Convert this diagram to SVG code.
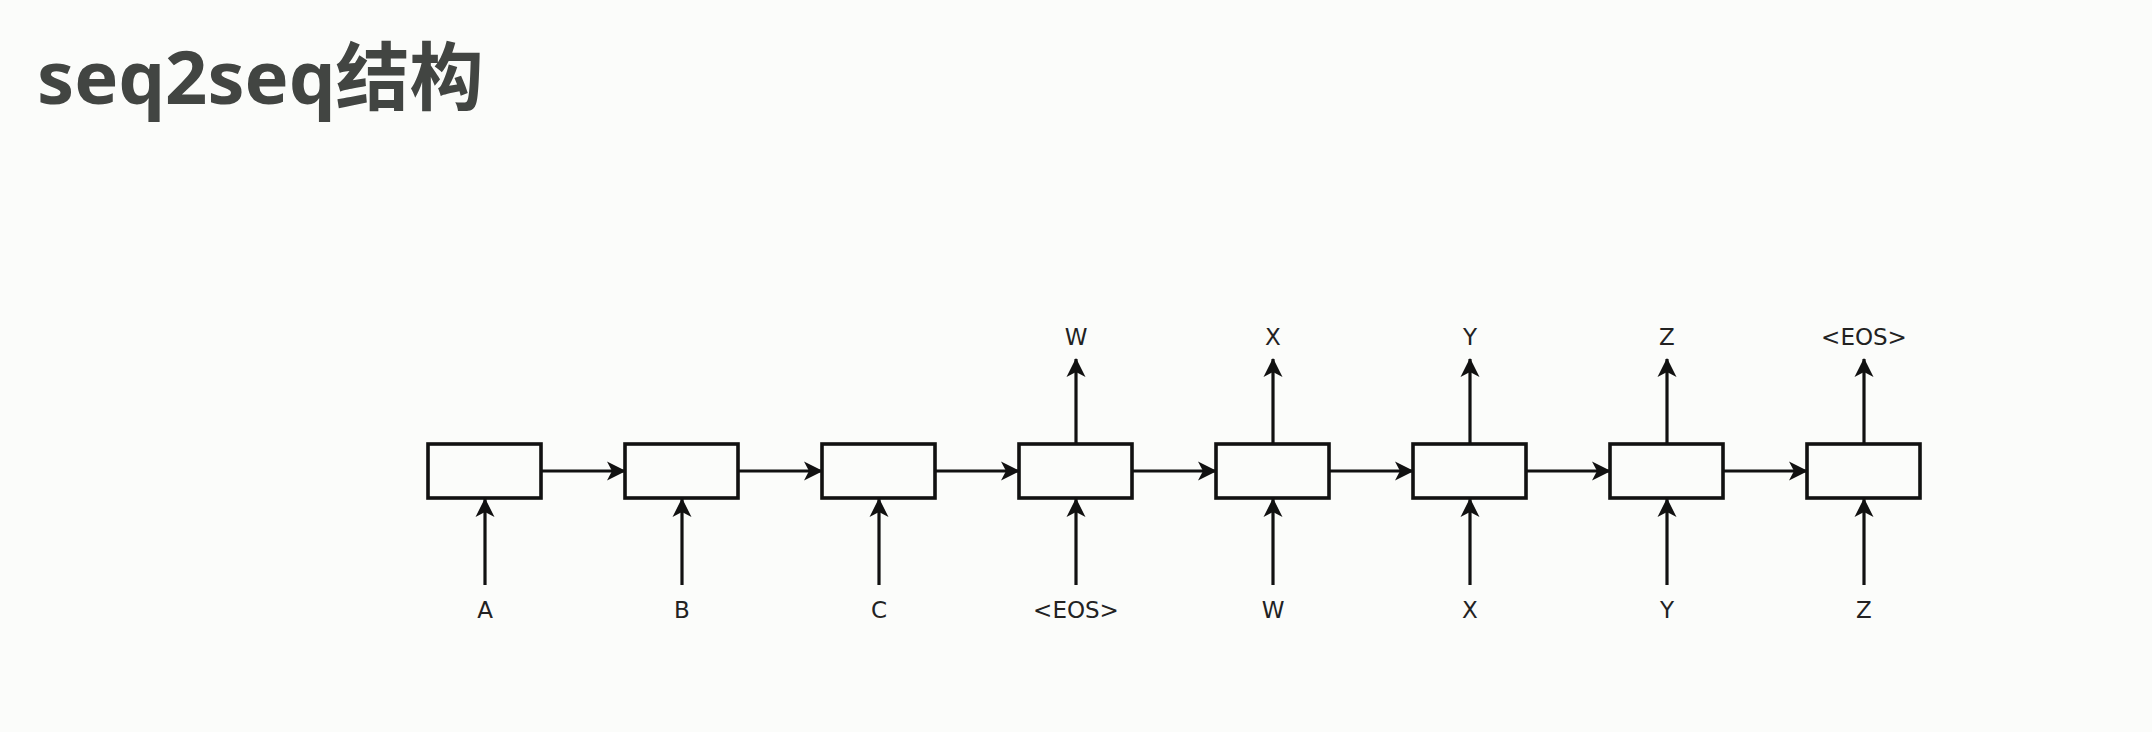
<svg xmlns="http://www.w3.org/2000/svg" width="2152" height="732" viewBox="0 0 2152 732">
<style>
.box{fill:none;stroke:#111;stroke-width:3.6}
.ln{fill:none;stroke:#111;stroke-width:3.2;marker-end:url(#ah)}
.lbl{font-family:"DejaVu Sans",sans-serif;font-size:23px;fill:#222;text-anchor:middle}
.title{font-family:"Noto Sans","Noto Sans CJK SC",sans-serif;font-weight:bold;font-size:74px;fill:#424542}
</style>
<defs>
<marker id="ah" markerUnits="userSpaceOnUse" viewBox="0 0 19 21" refX="18" refY="10.5" markerWidth="19" markerHeight="21" orient="auto">
<path d="M0,1 L19,10.5 L0,20 L5,10.5 Z" fill="#111"/>
</marker>
</defs>
<rect width="2152" height="732" fill="#fbfcfa"/>
<text class="title" x="37" y="104">seq2seq<tspan font-family="Noto Sans CJK SC">结构</tspan></text>
<g id="connectors">
<line class="ln" x1="541" y1="471" x2="625" y2="471"/>
<line class="ln" x1="738" y1="471" x2="822" y2="471"/>
<line class="ln" x1="935" y1="471" x2="1019" y2="471"/>
<line class="ln" x1="1132" y1="471" x2="1216" y2="471"/>
<line class="ln" x1="1329" y1="471" x2="1413" y2="471"/>
<line class="ln" x1="1526" y1="471" x2="1610" y2="471"/>
<line class="ln" x1="1723" y1="471" x2="1807" y2="471"/>
<line class="ln" x1="485" y1="585" x2="485" y2="499"/>
<line class="ln" x1="682" y1="585" x2="682" y2="499"/>
<line class="ln" x1="879" y1="585" x2="879" y2="499"/>
<line class="ln" x1="1076" y1="585" x2="1076" y2="499"/>
<line class="ln" x1="1273" y1="585" x2="1273" y2="499"/>
<line class="ln" x1="1470" y1="585" x2="1470" y2="499"/>
<line class="ln" x1="1667" y1="585" x2="1667" y2="499"/>
<line class="ln" x1="1864" y1="585" x2="1864" y2="499"/>
<line class="ln" x1="1076" y1="444" x2="1076" y2="359"/>
<line class="ln" x1="1273" y1="444" x2="1273" y2="359"/>
<line class="ln" x1="1470" y1="444" x2="1470" y2="359"/>
<line class="ln" x1="1667" y1="444" x2="1667" y2="359"/>
<line class="ln" x1="1864" y1="444" x2="1864" y2="359"/>
</g>
<g id="n1"><rect class="box" x="428" y="444" width="113" height="54"/><text class="lbl" x="485" y="618">A</text></g>
<g id="n2"><rect class="box" x="625" y="444" width="113" height="54"/><text class="lbl" x="682" y="618">B</text></g>
<g id="n3"><rect class="box" x="822" y="444" width="113" height="54"/><text class="lbl" x="879" y="618">C</text></g>
<g id="n4"><rect class="box" x="1019" y="444" width="113" height="54"/><text class="lbl" x="1076" y="618">&lt;EOS&gt;</text><text class="lbl" x="1076" y="345">W</text></g>
<g id="n5"><rect class="box" x="1216" y="444" width="113" height="54"/><text class="lbl" x="1273" y="618">W</text><text class="lbl" x="1273" y="345">X</text></g>
<g id="n6"><rect class="box" x="1413" y="444" width="113" height="54"/><text class="lbl" x="1470" y="618">X</text><text class="lbl" x="1470" y="345">Y</text></g>
<g id="n7"><rect class="box" x="1610" y="444" width="113" height="54"/><text class="lbl" x="1667" y="618">Y</text><text class="lbl" x="1667" y="345">Z</text></g>
<g id="n8"><rect class="box" x="1807" y="444" width="113" height="54"/><text class="lbl" x="1864" y="618">Z</text><text class="lbl" x="1864" y="345">&lt;EOS&gt;</text></g>
</svg>
